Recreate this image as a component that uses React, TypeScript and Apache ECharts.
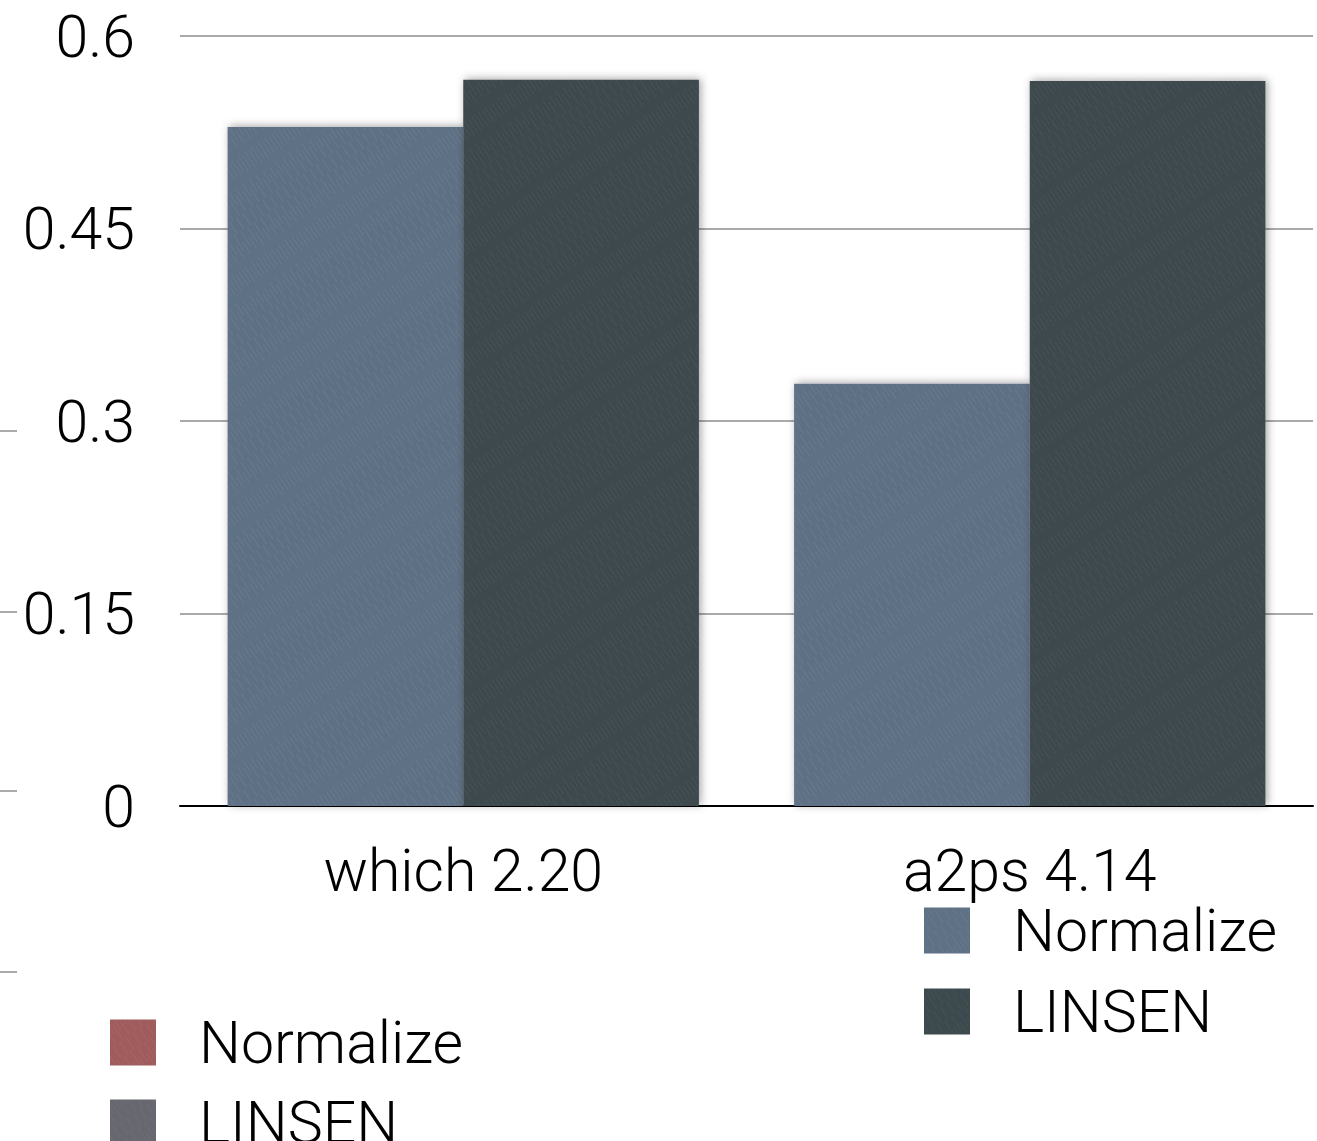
import React, { useEffect, useRef } from "react";
import * as echarts from "echarts";

const categories = ["which 2.20", "a2ps 4.14"];
const normalizeValues = [0.529, 0.329];
const linsenValues = [0.566, 0.565];
const yTicks = { min: 0, max: 0.6, interval: 0.15 };
const ghostTickYs = [431, 612, 791, 972];

const FONT = "Roboto";
const WEIGHT = 300;
const FS = 59;

export default function App() {
  const ref = useRef<HTMLDivElement>(null);
  useEffect(() => {
    const chart = echarts.init(ref.current!, undefined, { renderer: "svg" });
    const shadow = {
      shadowBlur: 8,
      shadowColor: "rgba(0,0,0,0.35)",
      shadowOffsetX: 2,
      shadowOffsetY: -1,
    };
    const decal = (c: string) => ({
      symbol: "rect",
      color: c,
      dashArrayX: [[14, 10], [0, 6, 18, 8]],
      dashArrayY: [1, 3],
      rotation: Math.PI / 3.2,
    });
    const legendText = {
      color: "#000",
      fontFamily: FONT,
      fontWeight: WEIGHT,
      fontSize: FS,
      padding: [0, 0, 0, 38],
    };
    chart.setOption({
      animation: false,
      backgroundColor: "#ffffff",
      grid: { left: 180, right: 4, top: 36, bottom: 335, containLabel: false },
      xAxis: {
        type: "category",
        data: categories,
        axisLine: { show: true, lineStyle: { color: "#000", width: 2 } },
        axisTick: { show: false },
        axisLabel: {
          color: "#000",
          fontFamily: FONT,
          fontWeight: WEIGHT,
          fontSize: FS,
          margin: 35,
        },
      },
      yAxis: {
        type: "value",
        min: yTicks.min,
        max: yTicks.max,
        interval: yTicks.interval,
        axisLine: { show: false },
        axisTick: { show: false },
        splitLine: { show: true, lineStyle: { color: "#a9a9a9", width: 2 } },
        axisLabel: {
          color: "#000",
          fontFamily: FONT,
          fontWeight: WEIGHT,
          fontSize: FS,
          margin: 45,
          formatter: (v: number) => String(parseFloat(v.toFixed(2))),
        },
      },
      legend: [
        {
          orient: "vertical",
          left: 924,
          top: 901,
          padding: 0,
          itemWidth: 46,
          itemHeight: 46,
          itemGap: 22,
          icon: "rect",
          data: ["Normalize", "LINSEN"],
          textStyle: legendText,
        },
        {
          orient: "vertical",
          left: 110,
          top: 1013,
          height: 300,
          padding: 0,
          itemWidth: 46,
          itemHeight: 46,
          itemGap: 21,
          icon: "rect",
          data: [
            { name: "Normalize", itemStyle: { color: "#a05b5d" } },
            { name: "LINSEN", itemStyle: { color: "#67676f" } },
          ],
          textStyle: legendText,
        },
      ],
      graphic: ghostTickYs.map((y) => ({
        type: "line",
        shape: { x1: 0, y1: y, x2: 17, y2: y },
        style: { stroke: "#aaaaaa", lineWidth: 2 },
        silent: true,
      })),
      series: [
        {
          name: "Normalize",
          type: "bar",
          data: normalizeValues,
          barWidth: "41.6%",
          barGap: "0%",
          itemStyle: { color: "#5e7185", decal: decal("rgba(255,255,255,0.05)"), ...shadow },
        },
        {
          name: "LINSEN",
          type: "bar",
          data: linsenValues,
          barWidth: "41.6%",
          barGap: "0%",
          itemStyle: { color: "#3c4a4d", decal: decal("rgba(255,255,255,0.04)"), ...shadow },
        },
      ],
    });
    return () => chart.dispose();
  }, []);
  return (
    <div
      ref={ref}
      style={{ position: "absolute", left: 0, top: 0, width: 1317, height: 1141 }}
    />
  );
}
